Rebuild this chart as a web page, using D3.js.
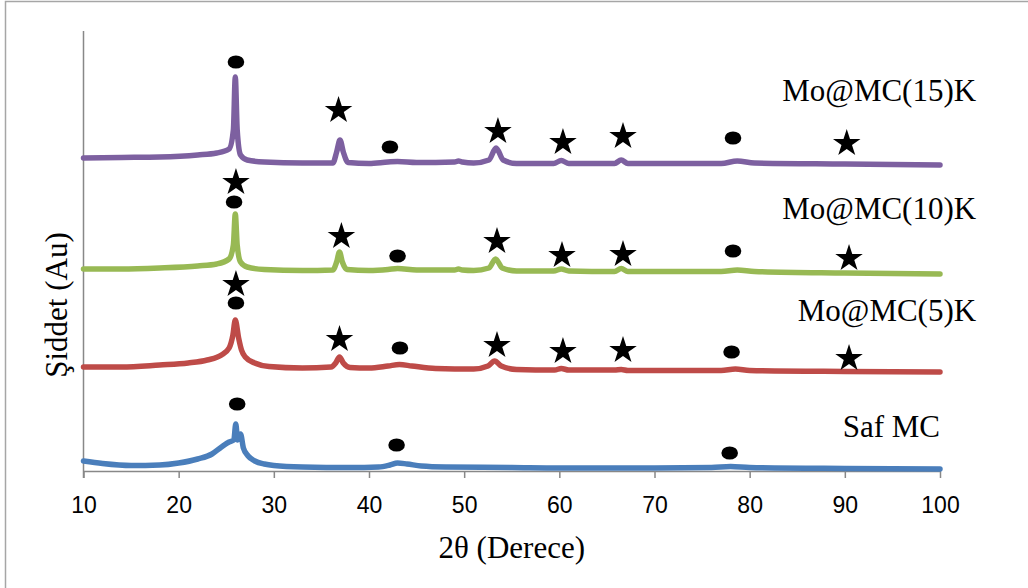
<!DOCTYPE html>
<html>
<head>
<meta charset="utf-8">
<script src="https://cdn.jsdelivr.net/npm/d3@7"></script>
<style>
  html, body { margin: 0; padding: 0; background: #fff; }
  svg { display: block; }
</style>
</head>
<body>
<svg id="chart" width="1028" height="588"></svg>
<script>
// XRD patterns: [2θ (degrees), intensity (a.u., stacked offset)]
const safMC = [
  [10, 10], [12, 7.5], [15, 5.5], [18, 6], [20, 8], [22, 12], [23.5, 17], [24.5, 24],
  [25.3, 29], [25.8, 31], [26.0, 47], [26.2, 31], [26.5, 37], [26.8, 23], [27.3, 15],
  [28, 10], [29, 7], [30, 5.5], [33, 4], [38, 3.5], [41, 4], [42.2, 6], [43, 8],
  [44, 7], [45.5, 5], [48, 4], [55, 3.5], [60, 3], [70, 3], [76, 3.5], [78, 4.5],
  [80, 3.5], [90, 2.5], [100, 2]
];
const moMC5 = [
  [10, 104], [14, 104], [18, 106], [21, 108], [23, 111], [24.5, 116], [25.3, 123],
  [25.7, 136], [25.95, 151], [26.3, 133], [26.6, 121], [27, 114], [28, 108],
  [29.5, 104.5], [33, 103], [36, 104], [36.5, 108], [36.9, 114], [37.3, 108],
  [38, 103.5], [40, 103], [42, 105], [43.2, 106.5], [44.5, 105], [47, 102.5],
  [51, 102], [52.5, 105], [53.2, 110], [53.9, 105], [55.5, 101.5], [59.5, 101],
  [60.2, 102.5], [61, 101], [65.8, 101], [66.5, 101.5], [67.2, 100.5], [77, 100.5],
  [78.5, 102], [80, 100.5], [90, 99.5], [100, 99]
];
const moMC10 = [
  [10, 202], [14, 202], [18, 203], [22, 205], [24, 207], [25.3, 212], [25.75, 226],
  [25.95, 257], [26.15, 226], [26.5, 209], [27.2, 204], [29, 201.5], [33, 200.5],
  [36.2, 201], [36.6, 209], [36.9, 219], [37.2, 209], [37.7, 201.5], [40, 200.5],
  [42, 201.5], [43, 202.5], [45, 201], [49, 201], [49.4, 202], [49.8, 201],
  [51, 200.5], [52.6, 203], [53.3, 212], [54, 203], [55.5, 200], [59.4, 200],
  [60.2, 202], [61, 200], [65.8, 199.5], [66.5, 202.5], [67.2, 199.5], [77, 199.5],
  [78.7, 201], [80.5, 199.5], [90, 198], [100, 197]
];
const moMC15 = [
  [10, 313], [14, 313.5], [18, 314], [22, 316], [24, 318], [25.3, 322], [25.75, 341],
  [25.95, 394], [26.15, 341], [26.5, 316], [27.2, 311], [29, 309], [33, 308],
  [36.2, 308], [36.6, 319], [36.95, 331], [37.3, 319], [37.8, 308.5], [40, 307.5],
  [42, 309], [43, 309.5], [45, 308.5], [49, 309], [49.4, 310], [49.8, 309],
  [51, 308], [52.6, 311], [53.35, 323], [54.1, 311], [55.5, 307.5], [59.4, 307.5],
  [60.2, 310.5], [61, 307.5], [65.8, 307.5], [66.5, 311], [67.2, 307.5], [77, 307.5],
  [78.7, 310], [80.5, 308], [90, 307], [100, 306]
];

const seriesNames = ["Saf MC", "Mo@MC(5)K", "Mo@MC(10)K", "Mo@MC(15)K"];
const seriesColors = ["#4a7ebb", "#be4b48", "#98b954", "#7d60a0"];
const seriesData = [safMC, moMC5, moMC10, moMC15];
// label anchor: [2θ at the right end of the text, intensity at the baseline]
const labelAnchors = [[100, 34], [103.8, 150], [103.8, 252], [103.8, 370]];

// Phase markers: [2θ, intensity]  (● and ★ reflections)
const circleMarks = [
  [26.02, 409], [42.2, 324], [78.25, 333],
  [25.82, 269], [43.0, 215], [78.25, 220],
  [26.02, 168], [43.25, 123], [78.1, 119],
  [26.15, 67], [42.9, 26], [77.9, 18]
];
const starMarks = [
  [36.8, 362], [53.55, 341], [60.38, 330], [66.69, 336], [90.2, 329],
  [26.02, 290], [37.1, 236], [53.45, 231], [60.28, 217], [66.69, 218], [90.44, 214],
  [26.02, 188], [36.9, 133], [53.45, 127], [60.38, 121], [66.69, 122], [90.44, 114]
];

const xTicks = [10, 20, 30, 40, 50, 60, 70, 80, 90, 100];
const xTitle = "2θ (Derece)";
const yTitle = "Şiddet (Au)";

const svg = d3.select("#chart");
const plotLeft = 83.5, plotRight = 940, plotTop = 31, plotBottom = 471;

const x = d3.scaleLinear().domain([10, 100]).range([plotLeft, plotRight]);
const y = d3.scaleLinear().domain([0, 440]).range([plotBottom, plotTop]);

// outer frame
svg.append("rect")
  .attr("x", 5.5).attr("y", 1.5)
  .attr("width", 1040).attr("height", 600)
  .attr("fill", "none").attr("stroke", "#a6a6a6").attr("stroke-width", 1.5);

// y axis line (no ticks)
svg.append("line")
  .attr("x1", plotLeft).attr("x2", plotLeft)
  .attr("y1", plotTop).attr("y2", plotBottom + 7)
  .attr("stroke", "#888").attr("stroke-width", 1.5);

// x axis
const xAxis = svg.append("g")
  .attr("transform", `translate(0,${plotBottom})`)
  .call(d3.axisBottom(x).tickValues(xTicks).tickSize(7).tickSizeOuter(0).tickPadding(19));
xAxis.select(".domain").attr("stroke", "#888").attr("stroke-width", 1.5);
xAxis.selectAll(".tick line").attr("stroke", "#888").attr("stroke-width", 1.5);
xAxis.selectAll(".tick text")
  .attr("font-family", "'Liberation Sans', Arial, sans-serif")
  .attr("font-size", 23)
  .attr("fill", "#000");

// patterns
const line = d3.line()
  .x(d => x(d[0]))
  .y(d => y(d[1]))
  .curve(d3.curveMonotoneX);

svg.append("g").selectAll("path")
  .data(seriesData)
  .join("path")
  .attr("d", line)
  .attr("fill", "none")
  .attr("stroke", (d, i) => seriesColors[i])
  .attr("stroke-width", 5.5)
  .attr("stroke-linejoin", "round")
  .attr("stroke-linecap", "round");

// markers
svg.append("g").selectAll("ellipse")
  .data(circleMarks)
  .join("ellipse")
  .attr("cx", d => x(d[0]))
  .attr("cy", d => y(d[1]))
  .attr("rx", 8.3).attr("ry", 6.6)
  .attr("fill", "#000");

const star = d3.symbol().type(d3.symbolStar).size(235);
svg.append("g").selectAll("path")
  .data(starMarks)
  .join("path")
  .attr("d", star)
  .attr("transform", d => `translate(${x(d[0])},${y(d[1]) + 1.4})`)
  .attr("fill", "#000");

// series labels
svg.append("g").selectAll("text")
  .data(seriesNames)
  .join("text")
  .attr("x", (d, i) => x(labelAnchors[i][0]))
  .attr("y", (d, i) => y(labelAnchors[i][1]))
  .attr("text-anchor", "end")
  .attr("font-family", "'Liberation Serif', 'Times New Roman', serif")
  .attr("font-size", 31)
  .attr("fill", "#000")
  .text(d => d);

// axis titles
svg.append("text")
  .attr("x", (plotLeft + plotRight) / 2)
  .attr("y", 558)
  .attr("text-anchor", "middle")
  .attr("font-family", "'Liberation Serif', 'Times New Roman', serif")
  .attr("font-size", 31)
  .attr("fill", "#000")
  .text(xTitle);

svg.append("text")
  .attr("transform", `translate(67,305) rotate(-90)`)
  .attr("text-anchor", "middle")
  .attr("font-family", "'Liberation Serif', 'Times New Roman', serif")
  .attr("font-size", 31)
  .attr("fill", "#000")
  .text(yTitle);
</script>
</body>
</html>
